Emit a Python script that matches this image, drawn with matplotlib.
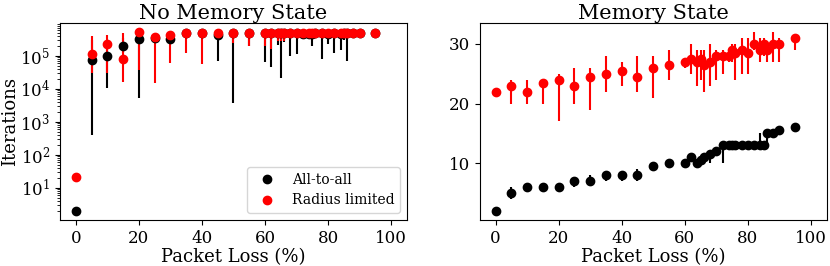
import matplotlib
matplotlib.use('Agg')
import matplotlib.pyplot as plt
import numpy as np

plt.rcParams['font.family'] = 'DejaVu Serif'

# packet loss values (%)
loss = [0, 5, 10, 15, 20, 25, 30, 35, 40, 45, 50, 55, 60, 62, 64, 65, 66, 68,
        70, 72, 74, 75, 76, 78, 80, 82, 84, 85, 86, 88, 90, 95]

# No memory state: iterations (value, lower, upper)
nm_all = [2, 7.4e4, 9.8e4, 1.9e5, 3.1e5, 3.5e5, 3.1e5, 5e5, 5e5, 4.2e5, 5e5, 5e5,
          5e5, 5e5, 5e5, 5e5, 5e5, 5e5, 5e5, 4.5e5, 4.5e5, 4.5e5, 5e5, 5e5, 4.5e5,
          5e5, 4.5e5, 5e5, 5e5, 5e5, 5e5, 5e5]
nm_all_lo = [2, 390, 1.05e4, 1.2e5, 5.2e3, 3e5, 2.5e5, 5e5, 5e5, 7e4, 3.8e3, 1.9e5,
             6.6e4, 4.4e4, 2.1e5, 2.1e4, 2.6e5, 9.8e4, 1.1e5, 3.3e5, 3.7e5, 1.96e5,
             5e5, 8e4, 2.2e5, 1.2e5, 1.5e5, 3e5, 7e4, 5e5, 5e5, 5e5]
nm_all_hi = [2, 3e5, 3e5, 3.5e5, 5e5, 5e5, 4.5e5, 5e5, 5e5, 5e5, 5e5, 5e5,
             5e5, 5e5, 5e5, 5e5, 5e5, 5e5, 5e5, 5e5, 5e5, 5e5, 5e5, 5e5, 5e5,
             5e5, 5e5, 5e5, 5e5, 5e5, 5e5, 5e5]

nm_rad = [22, 1.1e5, 2.2e5, 7.8e4, 5.2e5, 3.7e5, 4.2e5, 5e5, 5e5, 5e5, 5e5, 5e5,
          5e5, 5e5, 5e5, 5e5, 5e5, 5e5, 5e5, 5e5, 5e5, 5e5, 5e5, 5e5, 5e5,
          5e5, 5e5, 5e5, 5e5, 5e5, 5e5, 5e5]
nm_rad_lo = [22, 3e4, 3e4, 1.6e4, 3.7e4, 1.5e4, 5.9e4, 1.2e5, 5.5e4, 4e5, 2.4e5, 1.9e5,
             1.9e5, 1.6e5, 2.8e5, 2.8e5, 2.8e5, 5e5, 5e5, 5e5, 5e5, 5e5, 5e5, 5e5, 5e5,
             5e5, 5e5, 5e5, 5e5, 5e5, 5e5, 5e5]
nm_rad_hi = [22, 4e5, 4.2e5, 5e5, 5.2e5, 4.2e5, 4.5e5, 5e5, 5e5, 5e5, 5e5, 5e5,
             5e5, 5e5, 5e5, 5e5, 5e5, 5e5, 5e5, 5e5, 5e5, 5e5, 5e5, 5e5, 5e5,
             5e5, 5e5, 5e5, 5e5, 5e5, 5e5, 5e5]

# Memory state: iterations (value, lower, upper)
m_all = [2, 5, 6, 6, 6, 7, 7, 8, 8, 8, 9.5, 10, 10, 11, 10, 10.5, 11, 11.5,
         12, 13, 13, 13, 13, 13, 13, 13, 13, 13, 15, 15, 15.5, 16]
m_all_lo = [2, 4, 5.5, 5.5, 5.5, 6, 6.5, 7, 7, 7, 9.5, 10, 10, 11, 10, 10.5, 10.5, 10,
            12, 10, 13, 12.5, 13, 13, 13, 13, 13, 13, 13, 15, 15.5, 15.3]
m_all_hi = [2, 6, 6.5, 6.5, 6.5, 7.5, 8, 8.5, 8.5, 9, 9.5, 10, 10, 11, 10, 10.5, 11, 11.5,
            12.5, 13, 13, 13.3, 13, 13, 13, 13, 15, 13.5, 15, 15, 15.5, 16]

m_rad = [22, 23, 22, 23.5, 24, 23, 24.5, 25, 25.5, 24.5, 26, 26.5, 27, 27.5, 27, 27.5,
         26.5, 27, 28, 28, 28, 29, 28.5, 29, 28.5, 30, 29, 30, 29, 30, 30, 31]
m_rad_lo = [22, 20, 20, 20, 17, 20, 19, 22, 23, 22, 21, 24, 26, 25, 23, 24,
            22, 23, 24, 25, 27, 27, 24, 25, 25, 29, 27, 28, 27, 27, 27, 29]
m_rad_hi = [22, 24, 24, 24, 25, 26, 26, 28, 27, 28, 28, 29, 27.5, 30, 29, 29,
            29, 30, 29, 29, 28.5, 30, 30, 31, 31, 32, 31, 31, 30, 32, 31, 31]


def yerr(val, lo, hi):
    val = np.array(val)
    return [val - np.array(lo), np.array(hi) - val]


fig = plt.figure(figsize=(8.3, 2.66), dpi=100)
ax1 = fig.add_axes([0.0723, 0.173, 0.418, 0.7405])
ax2 = fig.add_axes([0.578, 0.173, 0.418, 0.7405])

e1 = ax1.errorbar(loss, nm_all, yerr=yerr(nm_all, nm_all_lo, nm_all_hi), fmt='o',
                  color='k', ms=6, elinewidth=1.5, label='All-to-all')
e2 = ax1.errorbar(loss, nm_rad, yerr=yerr(nm_rad, nm_rad_lo, nm_rad_hi), fmt='o',
                  color='red', ms=6, elinewidth=1.5, label='Radius limited')
ax1.set_yscale('log')
ax1.set_title('No Memory State', fontsize=15, pad=3)
ax1.set_ylabel('Iterations', fontsize=13, labelpad=1)
ax1.set_xlabel('Packet Loss (%)', fontsize=13, labelpad=1)
ax1.legend([e1[0], e2[0]], ['All-to-all', 'Radius limited'], loc='lower right', fontsize=10)

ax2.errorbar(loss, m_all, yerr=yerr(m_all, m_all_lo, m_all_hi), fmt='o',
             color='k', ms=6, elinewidth=1.5)
ax2.errorbar(loss, m_rad, yerr=yerr(m_rad, m_rad_lo, m_rad_hi), fmt='o',
             color='red', ms=6, elinewidth=1.5)
ax2.set_yticks([10, 20, 30])
ax2.set_title('Memory State', fontsize=15, pad=3)
ax2.set_xlabel('Packet Loss (%)', fontsize=13, labelpad=1)

for ax in (ax1, ax2):
    ax.set_xlim(-5, 105)
    ax.set_xticks([0, 20, 40, 60, 80, 100])
    ax.tick_params(labelsize=12)

fig.savefig('out.png', dpi=100)
